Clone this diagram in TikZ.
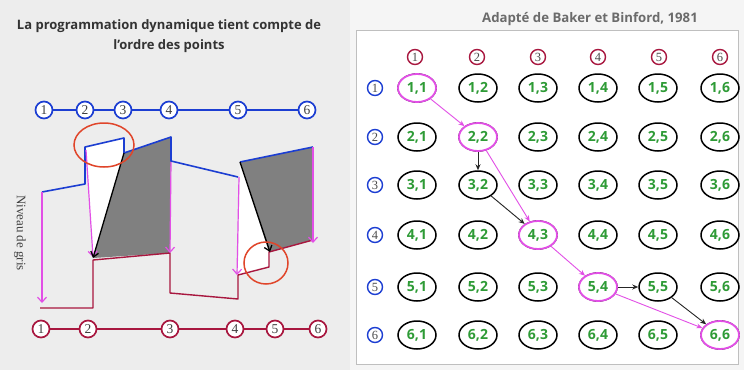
\documentclass[tikz,border=0pt]{standalone}
\usepackage{fontspec}
\setmainfont{Liberation Serif}
\setsansfont{Open Sans}
\usetikzlibrary{shapes.geometric,arrows.meta}
\definecolor{bluec}{HTML}{1C3ED2}
\definecolor{crim}{HTML}{A8173F}
\definecolor{mag}{HTML}{E24FE6}
\definecolor{grn}{HTML}{2E9B36}
\definecolor{org}{HTML}{E0452A}
\definecolor{bgc}{HTML}{EDEDED}
\definecolor{titc}{HTML}{333333}
\tikzset{
  numb/.style={circle,draw=#1,line width=1.7pt,fill=white,inner sep=0pt,minimum size=17pt,font=\fontsize{13.5}{13.5}\selectfont,text=black!75},
  hnum/.style={circle,draw=#1,line width=1.4pt,fill=white,inner sep=0pt,minimum size=15pt,font=\fontsize{12.5}{12.5}\selectfont,text=black!70},
  cell/.style={ellipse,draw=black,line width=1.5pt,fill=white,minimum width=38pt,minimum height=28pt,inner sep=0pt,text=grn,font=\sffamily\bfseries\fontsize{14}{14}\selectfont},
  pcell/.style={cell,draw=mag,line width=1.8pt},
  magarr/.style={draw=mag,line width=1.2pt,-{Straight Barb[length=5pt,width=9pt]}},
  blkarr/.style={draw=black,line width=1.3pt,-{Straight Barb[length=5pt,width=8pt]}},
  parr/.style={draw=mag,line width=0.9pt,-{Stealth[length=6pt,width=5pt]}},
  barr/.style={draw=black!85,line width=0.9pt,-{Stealth[length=6pt,width=5pt]}},
}
\begin{document}
\begin{tikzpicture}[x=1pt,y=-1pt]
\useasboundingbox (0,0) rectangle (744,370);
\fill[bgc] (0,0) rectangle (744,370);
\fill[white!96!black] (350,0) rectangle (744,370);
\fill[white,draw=black!25,line width=1pt] (356,30) rectangle (738,364);
% titles
\node[font=\sffamily\bfseries\fontsize{13}{20}\selectfont,text=titc,align=center] (title) at (169,36) {La programmation dynamique tient compte de\\l’ordre des points};
\node[font=\sffamily\bfseries\fontsize{13.2}{15}\selectfont,text=black!58] (src) at (590,19) {Adapté de Baker et Binford, 1981};
% top blue row
\foreach \i/\x in {1/44,2/85,3/123,4/169,5/238,6/307}{
  \coordinate (tp\i) at (\x,110);
}
\draw[bluec,line width=1.6pt] (tp1)--(tp6);
\foreach \i in {1,...,6}{\node[numb=bluec] (t\i) at (tp\i) {\i};}
% bottom crimson row
\foreach \i/\x in {1/41,2/88,3/170,4/235,5/275,6/318}{
  \coordinate (bp\i) at (\x,329);
}
\draw[crim,line width=1.4pt] (bp1)--(bp6);
\foreach \i in {1,...,6}{\node[numb=crim] (b\i) at (bp\i) {\i};}
% regions
\fill[white] (86,148)--(124,138)--(124,153)--(93,258)--cycle;
\fill[black!50] (124,153)--(171,137)--(170,253)--(93,258)--cycle;
\fill[white] (240,162)--(270,252)--(269,267)--(238,275)--cycle;
\fill[black!50] (240,162)--(313,147)--(313,240)--(269,252)--cycle;
% blue profile
\draw[bluec,line width=1.6pt,line join=round] (42,192)--(85,184)--(85,147)--(124,138)--(124,153)--(171,137)--(171,161)--(238,177);
\draw[bluec,line width=1.6pt] (240,162)--(313,147);
% crimson profile
\draw[crim,line width=1.4pt,line join=round] (40,308)--(93,308)--(93,260)--(170,253)--(170,293)--(238,299)--(238,275)--(269,267)--(269,252)--(313,240);
% magenta arrows
\draw[magarr] (42,192)--(42,303);
\draw[magarr] (86,150)--(93,257);
\draw[magarr] (171,162)--(170,253);
\draw[magarr] (239,177)--(237,275);
\draw[magarr] (313,147)--(313,243);
% black arrows
\draw[blkarr] (124,153)--(93,258);
\draw[blkarr] (240,162)--(270,252);
% orange ellipses
\draw[org,line width=1.5pt] (104,145) ellipse [x radius=30,y radius=22];
\draw[org,line width=1.5pt] (266,263) ellipse [x radius=22,y radius=21];
% axis label
\node[rotate=-90,font=\fontsize{13}{13}\selectfont,text=black!75] (niv) at (20,233) {Niveau de gris};
% grid
\foreach \j/\x in {1/415,2/477,3/538,4/598,5/659,6/720}{
  \node[hnum=crim] (c\j) at (\x,57) {\j};
}
\foreach \i/\y in {1/88,2/137,3/185,4/235,5/287,6/335}{
  \node[hnum=bluec] (r\i) at (375,\y) {\i};
  \foreach \j/\x in {1/417,2/478,3/538,4/598,5/658,6/720}{
    \node[cell] (n\i\j) at (\x,\y) {\i,\j};
  }
}
\foreach \i/\j in {1/1,2/2,4/3,5/4,6/6}{\node[pcell] (n\i\j) at (n\i\j) {\i,\j};}
\foreach \a/\b in {11/22,22/43,43/54,54/66}{
  \draw[parr] (n\a) -- (n\b);
}
\foreach \a/\b in {22/32,32/43,54/55,55/66}{
  \draw[barr] (n\a) -- (n\b);
}
\end{tikzpicture}
\end{document}
